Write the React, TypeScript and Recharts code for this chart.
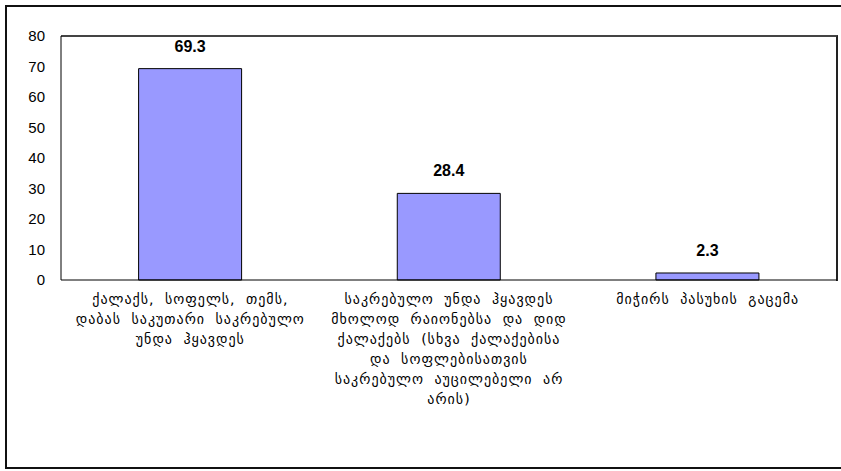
import { BarChart, Bar, XAxis, YAxis, LabelList } from 'recharts';

const categories = [
    'ქალაქს, სოფელს, თემს, დაბას საკუთარი საკრებულო უნდა ჰყავდეს',
    'საკრებულო უნდა ჰყავდეს მხოლოდ რაიონებსა და დიდ ქალაქებს (სხვა ქალაქებისა და სოფლებისათვის საკრებულო აუცილებელი არ არის)',
    'მიჭირს პასუხის გაცემა',
];

// line breaks as they appear under each bar
const tickLines = [
    ['ქალაქს, სოფელს, თემს,', 'დაბას საკუთარი საკრებულო', 'უნდა ჰყავდეს'],
    ['საკრებულო უნდა ჰყავდეს', 'მხოლოდ რაიონებსა და დიდ', 'ქალაქებს (სხვა ქალაქებისა', 'და სოფლებისათვის', 'საკრებულო აუცილებელი არ', 'არის)'],
    ['მიჭირს პასუხის გაცემა'],
];

const values = [69.3, 28.4, 2.3];

const yTicks = [0, 10, 20, 30, 40, 50, 60, 70, 80];

const data = categories.map((name, i) => ({ name, value: values[i] }));

const CategoryTick = (props: any) => {
    const { x, y, index } = props;
    const lines = tickLines[index] || [];
    return (
        <text
            x={x}
            y={y}
            textAnchor="middle"
            fontFamily="'DejaVu Sans'"
            fontSize={14}
            letterSpacing={1}
            wordSpacing={5}
            fill="#000"
        >
            {lines.map((l, i) => (
                <tspan key={i} x={x} dy={i === 0 ? 22 : 20}>{l}</tspan>
            ))}
        </text>
    );
};

const App = () => {
    return (
        <div style={{ position: 'absolute', left: 0, top: 0, width: 841, height: 471, overflow: 'hidden', background: '#fff' }}>
            <div style={{ position: 'absolute', left: 5, top: 5, width: 850, height: 464, border: '2px solid #111', boxSizing: 'border-box' }} />
            {/* plot frame, top and right edges */}
            <div style={{ position: 'absolute', left: 61, top: 35, width: 777, height: 246, borderTop: '2px solid #444', borderRight: '2px solid #222', boxSizing: 'border-box' }} />
            <div style={{ position: 'absolute', left: 0, top: 0 }}>
                <BarChart
                    width={841}
                    height={471}
                    data={data}
                    margin={{ top: 36, right: 4, left: 0, bottom: 0 }}
                    barCategoryGap="30%"
                >
                    <XAxis
                        dataKey="name"
                        height={191}
                        interval={0}
                        tickLine={false}
                        tickSize={0}
                        axisLine={{ stroke: '#000' }}
                        tick={<CategoryTick />}
                    />
                    <YAxis
                        domain={[0, 80]}
                        ticks={yTicks}
                        width={61}
                        tickLine={false}
                        tickSize={0}
                        tickMargin={16}
                        axisLine={{ stroke: '#000' }}
                        tick={{ fill: '#000', fontSize: 15, fontFamily: "'Liberation Sans', Arial" }}
                    />
                    <Bar dataKey="value" fill="#9999FF" stroke="#000" strokeWidth={1} isAnimationActive={false}>
                        <LabelList
                            dataKey="value"
                            position="top"
                            offset={17}
                            fill="#000"
                            fontSize={16}
                            fontWeight="bold"
                            fontFamily="'Liberation Sans', Arial"
                        />
                    </Bar>
                </BarChart>
            </div>
        </div>
    );
};

export default App;
